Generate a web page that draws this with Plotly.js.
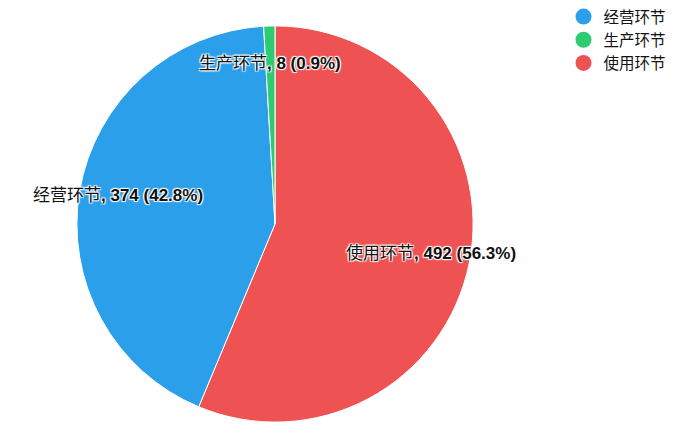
<!DOCTYPE html>
<html>
<head>
<meta charset="utf-8">
<script src="https://cdn.plot.ly/plotly-3.0.1.min.js"></script>
<style>html,body{margin:0;padding:0;background:#fff;}</style>
</head>
<body>
<div id="chart" style="width:700px;height:439px;"></div>
<script>
// Data (pie order, clockwise from 12 o'clock)
var categories = ["使用环节", "经营环节", "生产环节"];
var counts = [492, 374, 8];
var sliceColors = ["#ef5252", "#2b9fe9", "#2ecc71"];
// Legend order
var legendOrder = ["经营环节", "生产环节", "使用环节"];

var W = 700, H = 439;
var cx = 275, cy = 223, R = 199;
var dom = {
  x: [(cx - R) / W, (cx + R) / W],
  y: [1 - (cy + R) / H, 1 - (cy - R) / H]
};

var total = counts.reduce(function (a, b) { return a + b; }, 0);

var pie = {
  type: "pie",
  labels: categories,
  values: counts,
  sort: false,
  direction: "clockwise",
  rotation: 0,
  marker: { colors: sliceColors, line: { color: "#ffffff", width: 1 } },
  textinfo: "none",
  hoverinfo: "label+value+percent",
  showlegend: false,
  domain: dom
};

var traces = [pie];
legendOrder.forEach(function (name) {
  var i = categories.indexOf(name);
  traces.push({
    type: "scatter",
    mode: "markers",
    x: [null], y: [null],
    name: name,
    marker: { symbol: "circle", size: 17, color: sliceColors[i], line: { width: 0 } },
    showlegend: true,
    hoverinfo: "skip"
  });
});

// Labels placed at slice mid-angle, computed from data
var annotations = [];
var cum = 0;
var pcx = (dom.x[0] + dom.x[1]) / 2, pcy = (dom.y[0] + dom.y[1]) / 2;
var rx = (dom.x[1] - dom.x[0]) / 2, ry = (dom.y[1] - dom.y[0]) / 2;
counts.forEach(function (v, i) {
  var frac = v / total;
  var mid = (cum + frac / 2) * 2 * Math.PI;
  cum += frac;
  var k = 0.8;
  annotations.push({
    xref: "paper", yref: "paper",
    x: pcx + k * rx * Math.sin(mid),
    y: pcy + k * ry * Math.cos(mid),
    xanchor: "center", yanchor: "middle",
    yshift: 2,
    showarrow: false,
    text: categories[i] + "<b>, " + v + " (" + (frac * 100).toFixed(1) + "%)</b>",
    font: {
      family: "Liberation Sans, Arial, Noto Sans CJK SC",
      size: 17,
      color: "#111111",
      shadow: "1px 1px 1px #fff, -1px -1px 1px #fff, 1px -1px 1px #fff, -1px 1px 1px #fff"
    }
  });
});

var layout = {
  width: W, height: H,
  margin: { l: 0, r: 0, t: 0, b: 0 },
  paper_bgcolor: "#ffffff",
  plot_bgcolor: "#ffffff",
  xaxis: { visible: false, domain: [0.99, 1] },
  yaxis: { visible: false, domain: [0.99, 1] },
  showlegend: true,
  legend: {
    x: 0.805, y: 1.005, xanchor: "left", yanchor: "top",
    font: { family: "Noto Sans CJK SC", size: 15.5, color: "#111" },
    tracegroupgap: 0,
    itemwidth: 30,
    bgcolor: "rgba(0,0,0,0)"
  },
  annotations: annotations
};

Plotly.newPlot("chart", traces, layout, { displayModeBar: false, staticPlot: true });
</script>
</body>
</html>
